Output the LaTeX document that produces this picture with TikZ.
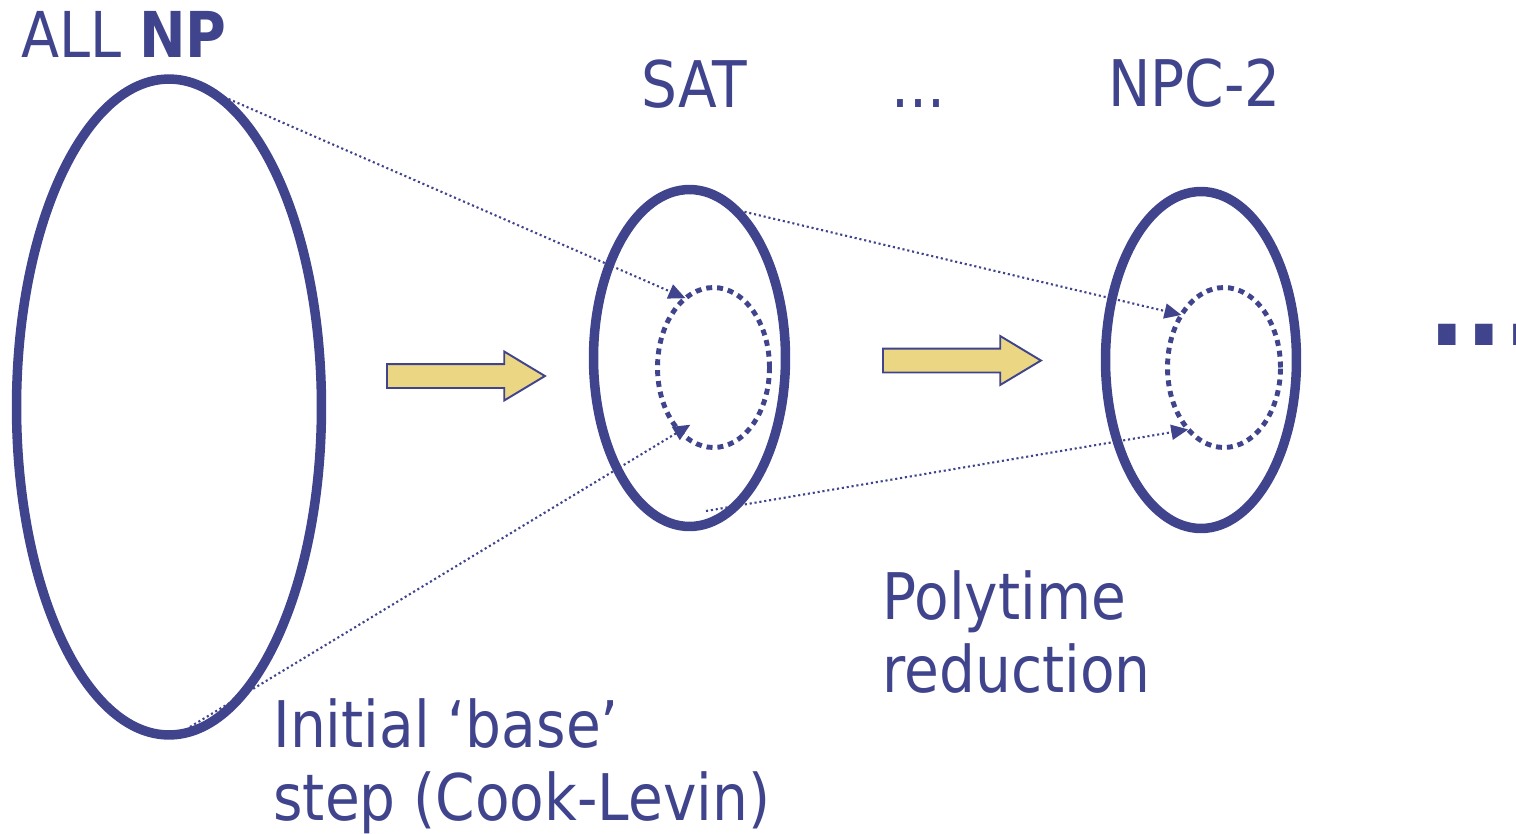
\documentclass[tikz,border=0pt]{standalone}
\usepackage{fontspec}
\setmainfont{DejaVu Sans}[FakeStretch=0.88]
\usetikzlibrary{arrows.meta,shapes.geometric,shapes.arrows,calc}
\definecolor{ink}{RGB}{64,68,140}
\definecolor{sand}{RGB}{235,214,132}
\begin{document}
\begin{tikzpicture}[
    x=0.02cm, y=-0.02cm,
    set/.style={draw=ink, ellipse, line width=5.4pt, inner sep=0pt, outer sep=0pt},
    core/.style={draw=ink, ellipse, line width=2.8pt, dash pattern=on 3.4pt off 2.8pt, inner sep=0pt, outer sep=0pt},
    reduce/.style={draw=ink, line width=1.2pt, dash pattern=on 1.2pt off 1.6pt, -{Triangle[length=0.34cm, width=0.3cm]}},
    push/.style={single arrow, draw=ink, fill=sand, line width=1.1pt, inner xsep=0pt, inner ysep=0.22cm, minimum height=3.16cm, single arrow head extend=0.25cm, single arrow tip angle=62, anchor=tail},
    lbl/.style={inner sep=0pt, anchor=base west, text=ink, align=left, font=\fontsize{36.6}{41.4}\selectfont}
]
\useasboundingbox (0,0) rectangle (1516,833);
\node[set, minimum width=6.1cm, minimum height=13.12cm] (np) at (169,407) {};
\node[set, minimum width=3.84cm, minimum height=6.74cm] (sat) at (689.5,358) {};
\node[set, minimum width=3.82cm, minimum height=6.74cm] (npc) at (1201,360) {};
\node[core, minimum width=2.24cm, minimum height=3.2cm] (insat) at (713.5,367.5) {};
\node[core, minimum width=2.26cm, minimum height=3.2cm] (innpc) at (1224,367.5) {};
\node[push] (cook) at (386,376) {};
\node[push] (poly) at (882,360.5) {};

\node[lbl, font=\fontsize{36}{40}\selectfont] (allnp) at (21,57) {ALL \textbf{NP}};
\node[lbl] (satlbl) at (641,107) {SAT};
\node[lbl] (gap) at (891,107) {...};
\node[lbl] (npclbl) at (1108,106) {NPC-2};
\node[lbl] (polylbl) at (882,692) {Polytime\\reduction};
\node[lbl] (cooklbl) at (273,820) {Initial ‘base’\\step (Cook-Levin)};
\node[lbl, font=\fontsize{64}{64}\selectfont\bfseries] (more) at (1428,345) {...};

\coordinate (satfoot) at (706,511);
\draw[reduce] ($(np.north)+(46,14)$) -- (insat.112);
\draw[reduce, shorten >=-0.25cm] ($(np.south)+(21,-8)$) -- (insat.-118);
\draw[reduce] (sat.73) -- (innpc.129);
\draw[reduce] (satfoot) -- (innpc.-120);
\end{tikzpicture}
\end{document}
